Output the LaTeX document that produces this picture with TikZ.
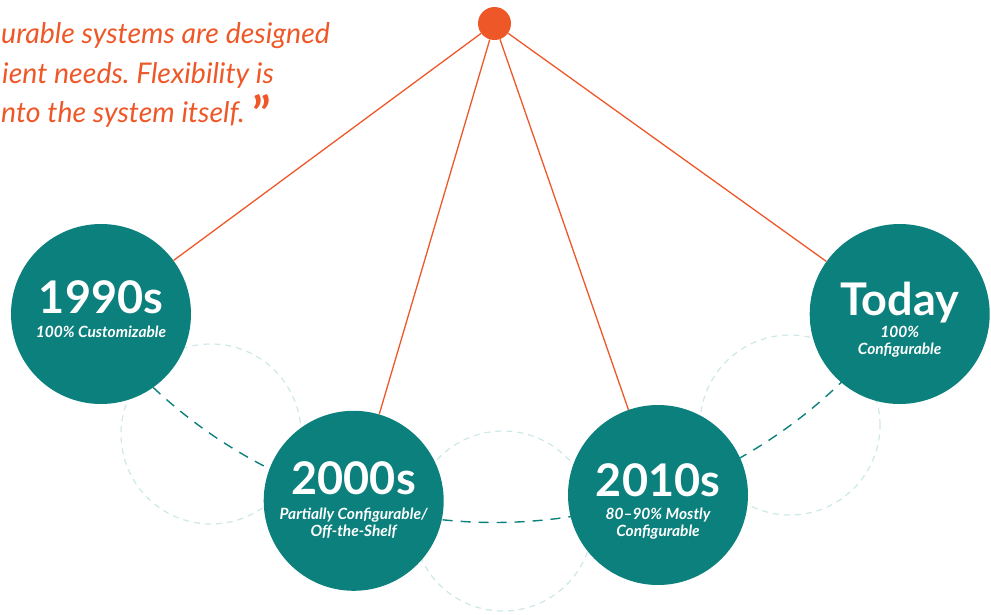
\documentclass[tikz,border=0pt]{standalone}
\usepackage{fontspec}
\setmainfont{Lato}
\usetikzlibrary{backgrounds}
\definecolor{eraTeal}{HTML}{0B807C}
\definecolor{hubOrange}{HTML}{EE5829}
\definecolor{ghostTeal}{HTML}{CDE8E6}
\frenchspacing
\begin{document}
\begin{tikzpicture}[x=1pt,y=-1pt,
  hub/.style={circle, fill=hubOrange, minimum size=33pt, inner sep=0pt},
  era/.style={circle, fill=eraTeal, minimum size=180pt, inner sep=0pt},
  spoke/.style={draw=hubOrange, line width=1.3pt},
  trail/.style={draw=eraTeal, line width=1.4pt, dash pattern=on 10pt off 8pt},
  ghost/.style={draw=ghostTeal, line width=1.2pt, dash pattern=on 6pt off 5pt},
  eratitle/.style={text=white, anchor=base, inner sep=0pt,
    font=\fontsize{45}{45}\selectfont\bfseries},
  erasub/.style={text=white, anchor=base, inner sep=0pt,
    font=\fontsize{15.5}{17.5}\selectfont\bfseries\itshape},
  quote/.style={text=hubOrange, anchor=base west, inner sep=0pt,
    font=\fontsize{28.5}{40}\selectfont\itshape}]
\useasboundingbox (0,0) rectangle (991,614);

% pivot and the four era discs
\node[hub] (hub) at (494.5,23.5) {};
\node[era] (e1990) at (101,314) {};
\node[era] (e2000) at (353.7,500.8) {};
\node[era] (e2010) at (658,495) {};
\node[era] (etoday) at (899.7,314) {};

% swing path and faint guide circles behind the discs
\begin{scope}[on background layer]
  \node[ghost, circle, minimum size=180pt, inner sep=0pt] (g1) at (211,434) {};
  \node[ghost, circle, minimum size=180pt, inner sep=0pt] (g2) at (503,521) {};
  \node[ghost, circle, minimum size=180pt, inner sep=0pt] (g3) at (790,425) {};
  \draw[trail] (hub.center) ++(143.5:499) arc[start angle=143.5, end angle=35.6, radius=499];
\end{scope}

% spokes from the pivot
\draw[spoke] (hub) -- (e1990);
\draw[spoke] (hub) -- (e2000);
\draw[spoke] (hub) -- (e2010);
\draw[spoke] (hub) -- (etoday);

% era labels
\node[eratitle] (t1990) at (101,313) {1990s};
\node[erasub] (s1990) at (101,337) {100\% Customizable};

\node[eratitle] (t2000) at (353.7,494.5) {2000s};
\node[erasub] (s2000a) at (353.7,519) {Partially Configurable/};
\node[erasub] (s2000b) at (353.7,536.7) {Off-the-Shelf};

\node[eratitle] (t2010) at (658,496.7) {2010s};
\node[erasub] (s2010a) at (658,519) {80–90\% Mostly};
\node[erasub] (s2010b) at (658,536) {Configurable};

\node[eratitle] (ttoday) at (899.7,315) {Today};
\node[erasub] (stoday1) at (899.7,337.7) {100\%};
\node[erasub] (stoday2) at (899.7,354.3) {Configurable};

% quotation
\node[quote] (q1) at (1,43) {urable systems are designed};
\node[quote] (q2) at (2,83) {ient needs. Flexibility is};
\node[quote] (q3) at (1,122.7) {nto the system itself.};
\node[text=hubOrange, anchor=north west, inner sep=0pt,
  font=\fontsize{48}{48}\selectfont\bfseries] (qmark) at (252,94) {”};
\end{tikzpicture}
\end{document}
